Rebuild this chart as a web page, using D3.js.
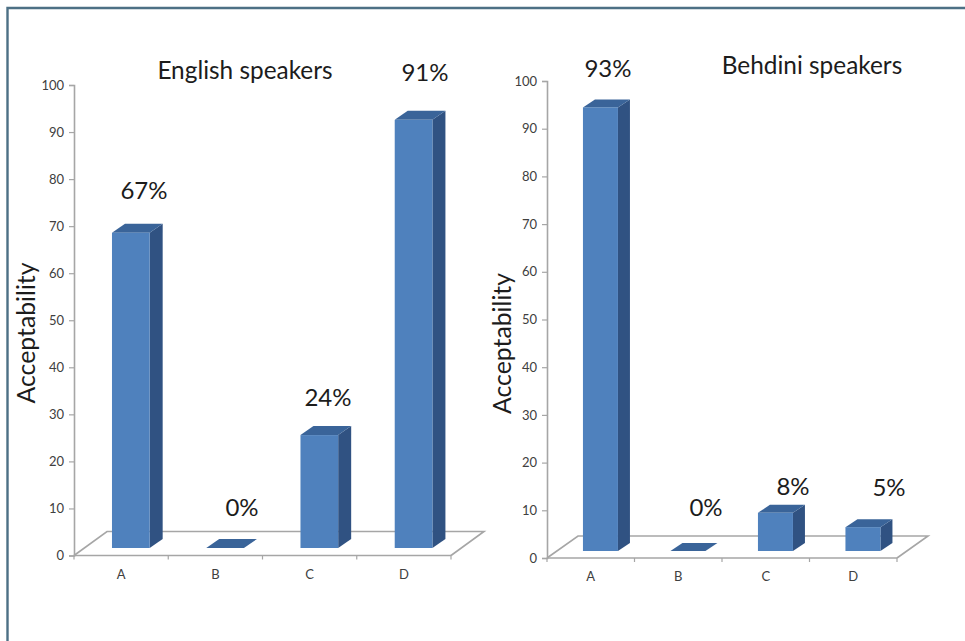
<!DOCTYPE html>
<html>
<head>
<meta charset="utf-8">
<script src="https://cdn.jsdelivr.net/npm/d3@7"></script>
<style>
  html, body { margin: 0; padding: 0; background: #fff; }
  svg { display: block; }
  text { font-family: Lato, "Open Sans", sans-serif; }
</style>
</head>
<body>
<svg id="chart" width="965" height="641"></svg>
<script>
// Acceptability of four sentence types, by speaker group
const categories = ["A", "B", "C", "D"];
const englishValues = [67, 0, 24, 91];
const behdiniValues = [93, 0, 8, 5];
const yTicks = [0, 10, 20, 30, 40, 50, 60, 70, 80, 90, 100];

const svg = d3.select("#chart");

// Outer frame: top and left rules only
svg.append("path")
  .attr("d", "M7.5,641 V8 H965")
  .attr("fill", "none")
  .attr("stroke", "#4d7085")
  .attr("stroke-width", 2.4);

const FRONT = "#4f81bd", TOP = "#3a6499", SIDE = "#305282", AXIS = "#a6a6a6";

function panel(cfg) {
  const y = d3.scaleLinear().domain([0, 100]).range([cfg.y0, cfg.y100]);
  const x = d3.scaleBand().domain(categories).range([cfg.x0, cfg.x1])
    .paddingInner(0.6).paddingOuter(0.3);
  const g = svg.append("g");
  const edge = c => x(c) - x.step() * 0.3;

  // Floor parallelogram behind the bars
  const [fx, fy] = cfg.floor;
  g.append("path")
    .attr("d", `M${cfg.x0},${cfg.y0} L${cfg.x0 + fx},${cfg.y0 - fy} H${cfg.x1 + fx} L${cfg.x1},${cfg.y0}`)
    .attr("fill", "none").attr("stroke", AXIS).attr("stroke-width", 1.6);

  // Value axis
  const yAxis = g.append("g")
    .attr("transform", `translate(${cfg.x0},0)`)
    .call(d3.axisLeft(y).tickValues(yTicks).tickSize(5).tickPadding(5));
  yAxis.select(".domain").attr("stroke", AXIS).attr("stroke-width", 1.6);
  yAxis.selectAll("line").attr("stroke", AXIS).attr("stroke-width", 1.2);
  yAxis.selectAll("text").attr("fill", "#404040").style("font-size", "13px");

  // Category axis: labels sit mid-band, ticks sit on the band edges
  const xAxis = g.append("g")
    .attr("transform", `translate(0,${cfg.y0})`)
    .call(d3.axisBottom(x).tickSize(0).tickPadding(14));
  xAxis.select(".domain").remove();
  xAxis.selectAll("text").attr("fill", "#404040").style("font-size", "13px");
  const edges = categories.map(edge).concat(cfg.x1);
  g.append("path")
    .attr("d", `M${cfg.x0},${cfg.y0} H${cfg.x1}`)
    .attr("stroke", AXIS).attr("stroke-width", 1.6);
  g.selectAll(".edge-tick").data(edges).join("line")
    .attr("class", "edge-tick")
    .attr("x1", d => d).attr("x2", d => d)
    .attr("y1", cfg.y0).attr("y2", cfg.y0 + 4)
    .attr("stroke", AXIS).attr("stroke-width", 1.2);

  // Extruded columns, lifted onto the floor and shifted along its depth
  const [dx, dy] = cfg.depth;
  const bars = g.append("g")
    .attr("transform", `translate(${cfg.barShift},${-cfg.barLift})`);
  const rows = categories.map((c, i) => ({ c, v: cfg.values[i] }));
  const w = x.bandwidth();
  bars.selectAll(".side").data(rows).join("path")
    .attr("class", "side").attr("fill", SIDE)
    .attr("d", d => `M${x(d.c) + w},${y(d.v)} l${dx},${-dy} V${y(0) - dy} l${-dx},${dy} Z`);
  bars.selectAll(".top").data(rows).join("path")
    .attr("class", "top").attr("fill", TOP)
    .attr("d", d => `M${x(d.c)},${y(d.v)} l${dx},${-dy} h${w} l${-dx},${dy} Z`);
  bars.selectAll(".front").data(rows).join("rect")
    .attr("class", "front").attr("fill", FRONT)
    .attr("x", d => x(d.c)).attr("width", w)
    .attr("y", d => y(d.v)).attr("height", d => y(0) - y(d.v));

  // Percent labels placed by hand above each column
  g.selectAll(".value").data(rows).join("text")
    .attr("class", "value")
    .attr("text-anchor", "middle")
    .attr("fill", "#1c1c1c")
    .style("font-size", "24px")
    .attr("x", (d, i) => cfg.labelPos[i][0])
    .attr("y", (d, i) => cfg.labelPos[i][1])
    .text(d => d.v + "%");

  g.append("text")
    .attr("x", cfg.title[1]).attr("y", cfg.title[2])
    .attr("text-anchor", "middle").attr("fill", "#1c1c1c")
    .style("font-size", "24.4px").text(cfg.title[0]);

  g.append("text")
    .attr("transform", `translate(${cfg.yLabel[0]},${cfg.yLabel[1]}) rotate(-90)`)
    .attr("text-anchor", "middle").attr("fill", "#1c1c1c")
    .style("font-size", "24.8px").text("Acceptability");
}

panel({
  values: englishValues,
  x0: 74, x1: 451, y0: 555.5, y100: 85,
  floor: [33, 24], depth: [13, 9], barShift: 9.7, barLift: 7.5,
  labelPos: [[144, 199], [242, 516], [328, 406], [425, 81]],
  title: ["English speakers", 245, 79],
  yLabel: [35, 333]
});

panel({
  values: behdiniValues,
  x0: 547, x1: 897, y0: 558, y100: 81,
  floor: [31, 22], depth: [12, 8], barShift: 9.7, barLift: 7,
  labelPos: [[608, 77], [706, 516], [793, 495], [889, 496]],
  title: ["Behdini speakers", 812, 74],
  yLabel: [511, 343.5]
});
</script>
</body>
</html>
